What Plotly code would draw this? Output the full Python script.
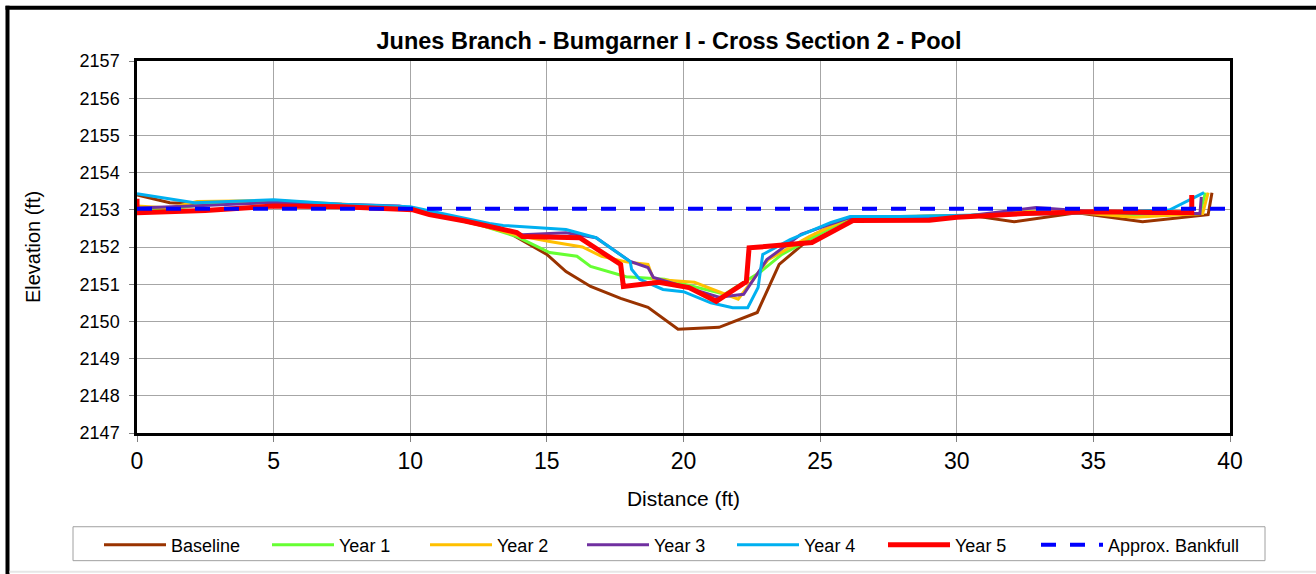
import plotly.graph_objects as go

# ---- data (distance ft, elevation ft) ----
base_x = [0, 1.2, 2.5, 5.0, 7.5, 9.6, 10.2, 12.0, 13.2, 13.9, 15.0, 15.7, 16.6, 17.7, 18.7, 19.8, 21.3, 22.7, 23.5, 24.8, 26.2, 28.5, 30.5, 32.1, 34.4, 36.8, 39.2, 39.34]
base_y = [2153.40, 2153.19, 2153.15, 2153.22, 2153.12, 2153.05, 2152.98, 2152.75, 2152.55, 2152.25, 2151.80, 2151.34, 2150.94, 2150.62, 2150.38, 2149.79, 2149.84, 2150.24, 2151.53, 2152.34, 2152.80, 2152.82, 2152.85, 2152.68, 2152.92, 2152.68, 2152.87, 2153.46]

y1_x = [0, 1.5, 2.5, 5.0, 7.5, 10.0, 12.5, 13.9, 15.1, 16.1, 16.6, 17.9, 19.3, 21.5, 22.8, 23.6, 24.6, 26.1, 28.5, 30.5, 32.5, 34.5, 36.5, 38.9, 39.1]
y1_y = [2153.0, 2153.05, 2153.15, 2153.2, 2153.12, 2153.02, 2152.6, 2152.28, 2151.85, 2151.75, 2151.48, 2151.2, 2151.13, 2150.73, 2151.32, 2151.8, 2152.2, 2152.79, 2152.82, 2152.85, 2152.95, 2152.92, 2152.85, 2152.9, 2153.46]

y2_x = [0, 1.2, 2.2, 5.0, 7.5, 10.0, 12.5, 14.0, 15.1, 16.3, 17.0, 17.9, 18.7, 18.9, 20.4, 22.0, 23.1, 24.6, 26.1, 28.5, 30.5, 32.5, 34.5, 36.5, 39.0, 39.2]
y2_y = [2153.1, 2153.05, 2153.22, 2153.25, 2153.15, 2153.05, 2152.6, 2152.3, 2152.15, 2152.0, 2151.75, 2151.6, 2151.53, 2151.13, 2151.05, 2150.6, 2151.66, 2152.28, 2152.8, 2152.82, 2152.85, 2152.95, 2152.92, 2152.8, 2152.9, 2153.46]

y3_x = [0, 2.0, 5.0, 7.5, 9.6, 11.0, 12.6, 14.1, 15.7, 16.8, 18.05, 18.7, 18.9, 21.3, 22.2, 23.05, 24.3, 26.0, 28.5, 30.5, 32.9, 35.0, 37.0, 38.9, 38.95]
y3_y = [2153.05, 2153.1, 2153.2, 2153.15, 2153.1, 2152.9, 2152.65, 2152.33, 2152.38, 2152.25, 2151.61, 2151.45, 2151.18, 2150.65, 2150.73, 2151.66, 2152.34, 2152.77, 2152.8, 2152.85, 2153.06, 2152.95, 2152.9, 2152.9, 2153.35]

y4_x = [0, 2.1, 5.0, 7.5, 10.0, 12.9, 13.4, 15.7, 16.8, 18.05, 18.1, 18.4, 19.25, 20.0, 21.0, 21.8, 22.35, 22.73, 22.9, 23.9, 25.4, 26.1, 27.9, 30.0, 32.5, 35.0, 37.8, 39.05]
y4_y = [2153.43, 2153.19, 2153.27, 2153.15, 2153.08, 2152.63, 2152.58, 2152.47, 2152.25, 2151.61, 2151.4, 2151.13, 2150.86, 2150.8, 2150.5, 2150.37, 2150.37, 2150.91, 2151.8, 2152.2, 2152.66, 2152.82, 2152.82, 2152.85, 2152.9, 2152.92, 2153.0, 2153.46]

y5_x = [0, 0, 2.5, 5.0, 7.5, 10.1, 10.7, 12.0, 13.9, 14.1, 16.2, 17.7, 17.8, 19.1, 20.2, 21.2, 22.3, 22.4, 22.8, 24.7, 26.2, 27.9, 29.0, 30.0, 32.5, 35.0, 38.6, 38.6]
y5_y = [2153.3, 2152.92, 2152.98, 2153.1, 2153.08, 2153.0, 2152.87, 2152.7, 2152.39, 2152.28, 2152.25, 2151.53, 2150.94, 2151.05, 2150.91, 2150.54, 2151.07, 2151.98, 2152.0, 2152.12, 2152.71, 2152.71, 2152.72, 2152.8, 2152.9, 2152.95, 2152.92, 2153.4]

bank_x = [0, 40]
bank_y = [2153.03, 2153.03]

x_ticks = [0, 5, 10, 15, 20, 25, 30, 35, 40]
y_ticks = [2147, 2148, 2149, 2150, 2151, 2152, 2153, 2154, 2155, 2156, 2157]

FONT = "Liberation Sans, Arial, sans-serif"

series = [
    ("Baseline", base_x, base_y, "#993300", 3, None),
    ("Year 1", y1_x, y1_y, "#66FF33", 3, None),
    ("Year 2", y2_x, y2_y, "#FFC000", 3, None),
    ("Year 3", y3_x, y3_y, "#7030A0", 3, None),
    ("Year 4", y4_x, y4_y, "#00B0F0", 3, None),
    ("Year 5", y5_x, y5_y, "#FF0000", 5, None),
    ("Approx. Bankfull", bank_x, bank_y, "#0000FF", 4, "15px,14px"),
]

W, H = 1316, 574
L, R, T, B = 137, 86, 61, 140
pw, ph = W - L - R, H - T - B

def px2x(p):
    return (p - L) / pw

def py2y(p):
    return (H - B - p) / ph

# legend entry positions (left edge of each legend line, px)
leg_starts = [104, 272, 430, 587, 737, 888, 1041]

fig = go.Figure()
legend_layouts = {}
for i, (name, xs, ys, col, w, dash) in enumerate(series):
    lname = "legend" if i == 0 else f"legend{i + 1}"
    line = dict(color=col, width=w)
    if dash:
        line["dash"] = dash
    fig.add_trace(go.Scatter(x=xs, y=ys, mode="lines", name=name, line=line,
                             legend=lname))
    legend_layouts[lname] = dict(
        orientation="h", x=px2x(leg_starts[i] - 5), xanchor="left",
        y=py2y(545), yanchor="middle", borderwidth=0, bgcolor="rgba(0,0,0,0)",
        font=dict(size=18, family=FONT, color="black"), itemwidth=62,
    )

fig.update_layout(
    width=W, height=H,
    margin=dict(l=L, r=R, t=T, b=B),
    paper_bgcolor="white", plot_bgcolor="white",
    font=dict(family=FONT, color="black", size=16),
    title=dict(text="<b>Junes Branch - Bumgarner I - Cross Section 2 - Pool</b>",
               x=669 / W, xanchor="center",
               y=1 - 41 / H, yanchor="middle", yref="container",
               font=dict(size=23.5, family=FONT, color="black")),
    xaxis=dict(range=[0, 40], tickvals=x_ticks, ticks="outside", ticklen=6,
               tickcolor="#808080", showgrid=True, gridcolor="#A6A6A6", gridwidth=1,
               showline=True, linecolor="black", linewidth=2.5, mirror=True,
               zeroline=False, tickfont=dict(size=23, family=FONT),
               title=dict(text="Distance (ft)", font=dict(size=21, family=FONT), standoff=18)),
    yaxis=dict(range=[2147, 2157], tickvals=y_ticks, ticks="outside", ticklen=5,
               tickcolor="#808080", showgrid=True, gridcolor="#A6A6A6", gridwidth=1,
               showline=True, linecolor="black", linewidth=2.5, mirror=True,
               zeroline=False, tickfont=dict(size=18, family=FONT), ticklabelstandoff=6,
               title=dict(text="Elevation (ft)", font=dict(size=20, family=FONT), standoff=34)),
    showlegend=True,
    shapes=[
        dict(type="line", xref="paper", yref="paper", x0=px2x(7.5), x1=px2x(7.5),
             y0=py2y(5.5), y1=py2y(580), line=dict(color="black", width=4)),
        dict(type="line", xref="paper", yref="paper", x0=px2x(5.5), x1=px2x(1320),
             y0=py2y(7.5), y1=py2y(7.5), line=dict(color="black", width=4)),
        dict(type="line", xref="paper", yref="paper", x0=px2x(9.5), x1=px2x(1320),
             y0=py2y(573), y1=py2y(573), line=dict(color="#E6E6E6", width=2)),
        dict(type="rect", xref="paper", yref="paper", x0=px2x(73), x1=px2x(1265),
             y0=py2y(528), y1=py2y(562), line=dict(color="#A0A0A0", width=1),
             fillcolor="rgba(0,0,0,0)"),
    ],
    **legend_layouts,
)

fig.write_html("out.html", config={"displayModeBar": False},
               post_script="document.body.style.margin='0px';")
